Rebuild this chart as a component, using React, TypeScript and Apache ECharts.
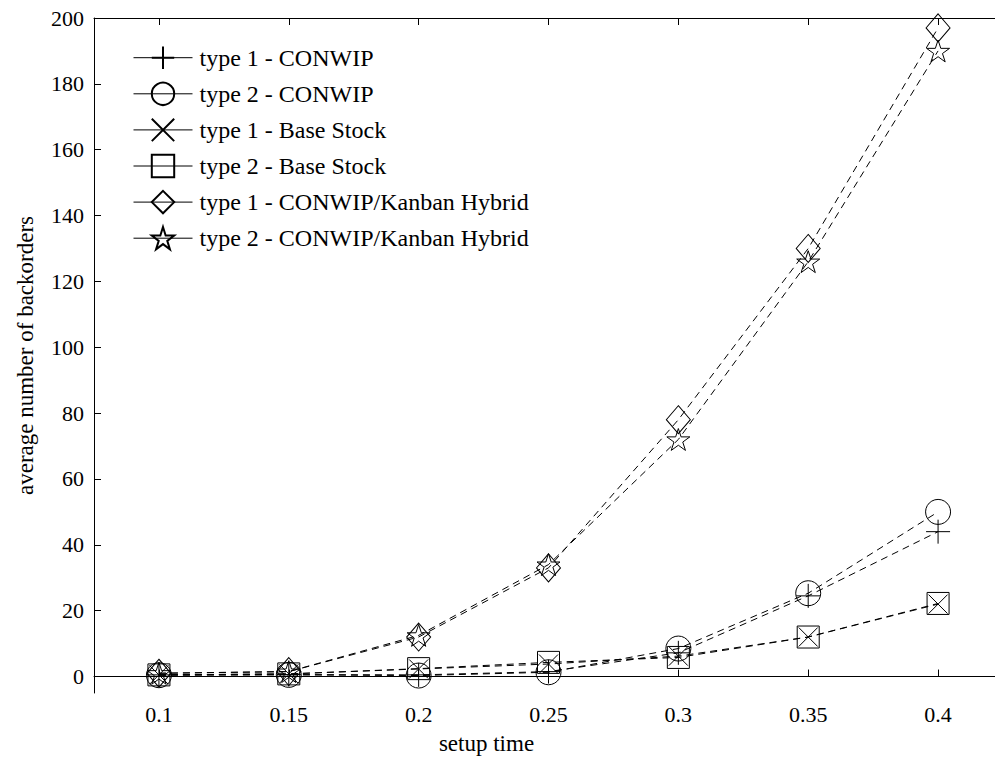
import React, { useEffect, useRef } from "react";
import * as echarts from "echarts";

const setupTimes = [0.1, 0.15, 0.2, 0.25, 0.3, 0.35, 0.4];
const xTicks = [0.1, 0.15, 0.2, 0.25, 0.3, 0.35, 0.4];
const yTicks = [0, 20, 40, 60, 80, 100, 120, 140, 160, 180, 200];

const type1Conwip = [0.5, 0.6, 0.5, 1.5, 7.2, 24.5, 44];
const type2Conwip = [0.4, 0.5, 0.3, 1.3, 8.5, 25.3, 50];
const type1Base = [0.5, 0.8, 2.3, 3.8, 6.2, 12, 22];
const type2Base = [0.5, 0.8, 2.4, 4.3, 5.8, 12, 22.2];
const type1Hybrid = [1.0, 1.5, 12, 33, 78, 130, 197];
const type2Hybrid = [1.0, 1.5, 12.5, 34, 72, 126, 190];

const seriesNames = [
  "type 1 - CONWIP",
  "type 2 - CONWIP",
  "type 1 - Base Stock",
  "type 2 - Base Stock",
  "type 1 - CONWIP/Kanban Hybrid",
  "type 2 - CONWIP/Kanban Hybrid",
];

const PLUS = "path://M0,50 L100,50 M50,0 L50,100";
const CROSS = "path://M0,0 L100,100 M100,0 L0,100";
const STAR =
  "path://M50,0 L61.23,34.55 L97.55,34.55 L68.17,55.9 L79.39,90.45 L50,69.1 L20.61,90.45 L31.83,55.9 L2.45,34.55 L38.77,34.55 Z";

const FONT = "'Liberation Serif', 'Times New Roman', Times, serif";

export default function App() {
  const ref = useRef<HTMLDivElement>(null);

  useEffect(() => {
    document.body.style.margin = "0";
    document.body.style.overflow = "hidden";
    if (!ref.current) return;
    const chart = echarts.init(ref.current, null, { renderer: "svg" });

    const mk = (name: string, values: number[], symbol: string, size: any) => ({
      name,
      type: "line",
      data: setupTimes.map((x, i) => [x, values[i]]),
      symbol,
      symbolSize: size,
      symbolKeepAspect: true,
      showAllSymbol: true,
      lineStyle: { color: "#000", width: 1, type: [7, 5] },
      itemStyle: { color: "none", borderColor: "#000", borderWidth: 1 },
      emphasis: { disabled: true },
      z: 2,
    });

    const axisCommon = {
      type: "value",
      min: 0.075,
      max: 0.425,
      axisLine: { show: true, lineStyle: { color: "#000", width: 1 } },
      splitLine: { show: false },
    };

    chart.setOption({
      animation: false,
      backgroundColor: "#fff",
      textStyle: { fontFamily: FONT },
      grid: { left: 94, top: 18, width: 909, height: 675, containLabel: false },
      legend: {
        orient: "vertical",
        left: 128,
        top: 39,
        itemWidth: 59,
        itemHeight: 28,
        itemGap: 8.7,
        data: seriesNames,
        lineStyle: { type: "solid", width: 1, color: "#000" },
        textStyle: { fontFamily: FONT, fontSize: 24, color: "#000", padding: [0, 0, 0, 2] },
        selectedMode: false,
      },
      xAxis: [
        {
          ...axisCommon,
          position: "bottom",
          name: "setup time",
          nameLocation: "middle",
          nameGap: 39,
          nameTextStyle: { fontFamily: FONT, fontSize: 23, color: "#000", padding: [0, 124, 0, 0] },
          axisTick: { show: true, inside: true, length: 7, customValues: xTicks, lineStyle: { color: "#000" } },
          axisLabel: {
            show: true,
            customValues: xTicks,
            fontFamily: FONT,
            fontSize: 22,
            color: "#000",
            margin: 10,
            formatter: (v: number) => String(Math.round(v * 100) / 100),
          },
        },
        {
          ...axisCommon,
          position: "top",
          axisTick: { show: true, inside: true, length: 7, customValues: xTicks, lineStyle: { color: "#000" } },
          axisLabel: { show: false },
        },
      ],
      yAxis: [
        {
          type: "value",
          min: -5,
          max: 200,
          position: "left",
          name: "average number of backorders",
          nameLocation: "middle",
          nameGap: 57,
          nameRotate: 90,
          nameTextStyle: { fontFamily: FONT, fontSize: 23, color: "#000" },
          axisLine: { show: true, lineStyle: { color: "#000", width: 1 } },
          splitLine: { show: false },
          axisTick: { show: true, inside: true, length: 7, customValues: yTicks, lineStyle: { color: "#000" } },
          axisLabel: {
            show: true,
            customValues: yTicks,
            fontFamily: FONT,
            fontSize: 22,
            color: "#000",
            margin: 10,
          },
        },
      ],
      series: [
        mk(seriesNames[0], type1Conwip, PLUS, 24),
        mk(seriesNames[1], type2Conwip, "circle", 25),
        mk(seriesNames[2], type1Base, CROSS, 19),
        mk(seriesNames[3], type2Base, "rect", 22),
        mk(seriesNames[4], type1Hybrid, "diamond", [24, 28]),
        mk(seriesNames[5], type2Hybrid, STAR, 23),
      ],
    });

    return () => chart.dispose();
  }, []);

  return (
    <div
      ref={ref}
      style={{ position: "fixed", left: 0, top: 0, width: 1010, height: 762 }}
    />
  );
}
